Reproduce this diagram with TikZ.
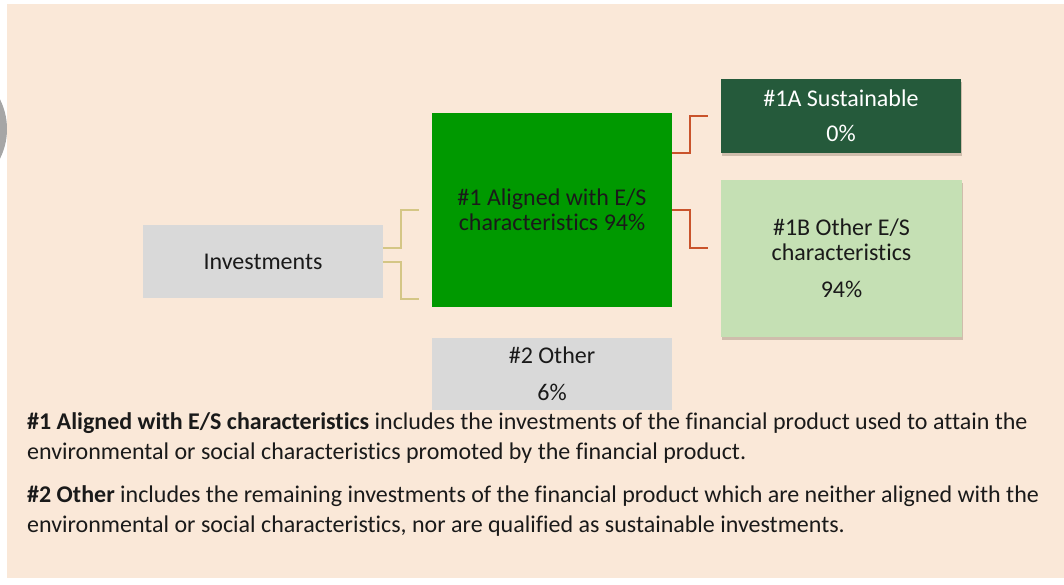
\documentclass[tikz,border=0pt]{standalone}
\usepackage{fontspec}
\setmainfont{Carlito}[Ligatures=NoCommon]
\usetikzlibrary{shadows}
\definecolor{panelBg}{HTML}{FAE8D8}
\definecolor{boxGrey}{HTML}{D9D9D9}
\definecolor{alignGreen}{HTML}{009900}
\definecolor{sustDark}{HTML}{255A3B}
\definecolor{otherLight}{HTML}{C5E0B4}
\definecolor{lineTan}{HTML}{D4C685}
\definecolor{lineRed}{HTML}{C9532B}
\definecolor{textDark}{HTML}{1A1A1A}
\definecolor{edgeGrey}{HTML}{A6A6A6}

\begin{document}
\begin{tikzpicture}[x=1pt, y=-1pt,
    box/.style={minimum width=240pt, inner sep=0pt, align=center, text=textDark,
      font=\fontsize{24}{25.5}\selectfont},
    shadowbox/.style={box, drop shadow={shadow xshift=1pt, shadow yshift=-3pt,
      fill=black!70!brown, opacity=0.22}},
    note/.style={anchor=base west, inner sep=0pt, align=left, text=textDark,
      font=\fontsize{24}{30}\selectfont},
    tanline/.style={lineTan, line width=2pt},
    redline/.style={lineRed, line width=2pt}]
  \useasboundingbox (0,0) rectangle (1064,585);
  \fill[white] (0,0) rectangle (1064,585);
  % bit of a circle cut off at the left edge
  \begin{scope}
    \clip (0,0) rectangle (1064,585);
    \fill[edgeGrey] (-59,129) circle[radius=66];
  \end{scope}
  \fill[panelBg] (7,4) rectangle (1064,578);

  % boxes
  \node[box, fill=boxGrey, minimum height=73pt] (inv) at (263,261.5) {Investments};
  \node[box, fill=alignGreen, minimum height=194pt] (aligned) at (552,210)
    {\#1 Aligned with E/S\\characteristics 94\%};
  \node[shadowbox, fill=sustDark, text=white, minimum height=74pt] (sust) at (841,116)
    {\#1A Sustainable\\[9.5pt]0\%};
  \node[shadowbox, fill=otherLight, minimum width=241pt, minimum height=157pt] (oth) at (841.5,258.5)
    {\#1B Other E/S\\characteristics\\[11.5pt]94\%};
  \node[box, fill=boxGrey, minimum height=72pt] (rest) at (552,374)
    {\#2 Other\\[11.5pt]6\%};

  % brackets
  \draw[tanline] ([yshift=13.5pt]inv.east) -- ++(18,0) |- ([xshift=-13pt]aligned.west);
  \draw[tanline] ([yshift=-0.5pt]inv.east) -- ++(18,0) |- ([xshift=-13pt,yshift=8pt]aligned.south west);
  \draw[redline] ([yshift=57pt]aligned.east) -- ++(18,0) |- ([xshift=-13pt]sust.west);
  \draw[redline] (aligned.east) -- ++(18,0) |- ([xshift=-13pt,yshift=11pt]oth.west);

  % notes under the chart (base = last line)
  \node[note] (note1) at (27,459)
    {\textbf{\#1 Aligned with E/S characteristics} includes the investments of the financial product used to attain the\\
     environmental or social characteristics promoted by the financial product.};
  \node[note] (note2) at (27,532)
    {\textbf{\#2 Other} includes the remaining investments of the financial product which are neither aligned with the\\
     environmental or social characteristics, nor are qualified as sustainable investments.};
\end{tikzpicture}
\end{document}
